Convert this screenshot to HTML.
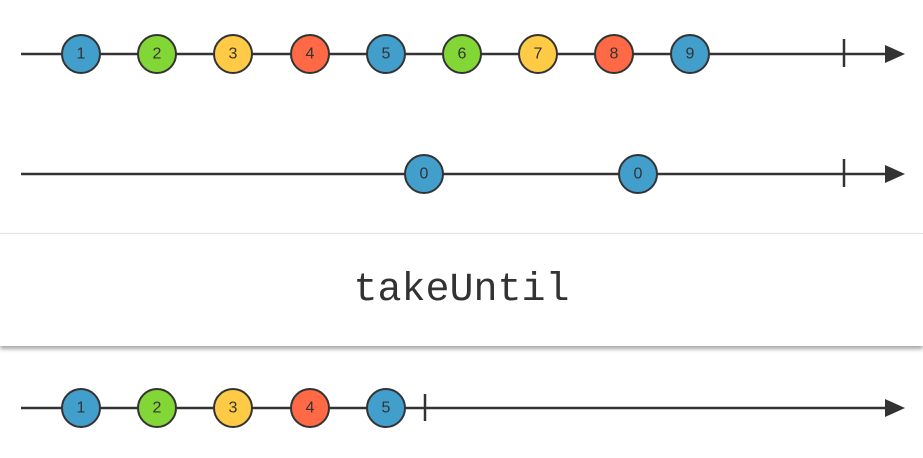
<!DOCTYPE html>
<html><head><style>
html,body{margin:0;padding:0;background:#fff;}
body{width:923px;height:458px;overflow:hidden;position:relative;}
.panel{position:absolute;left:0;top:233px;width:923px;height:112px;background:#fff;border-top:1px solid #e4e4e4;box-shadow:0 3px 4px rgba(0,0,0,0.35);}
.panel div{position:absolute;left:0;right:0;top:34px;text-align:center;font:40px "Liberation Mono",monospace;color:#333;}
svg{position:absolute;left:0;top:0;}
text{font-family:"Liberation Sans",sans-serif;font-size:16px;fill:#333;text-anchor:middle;dominant-baseline:central;}
</style></head><body>
<div class="panel"><div>takeUntil</div></div>
<svg width="923" height="458">
<g stroke="#333" stroke-width="2.5">
<line x1="21" y1="54" x2="888" y2="54"/><line x1="844" y1="39" x2="844" y2="67"/>
<line x1="21" y1="174" x2="888" y2="174"/><line x1="844" y1="159" x2="844" y2="187"/>
<line x1="21" y1="408" x2="888" y2="408"/><line x1="425" y1="394" x2="425" y2="421"/>
</g>
<g fill="#333">
<polygon points="885,45 905,54 885,63"/>
<polygon points="885,165 905,174 885,183"/>
<polygon points="885,399 905,408 885,417"/>
</g>
<g stroke="#333" stroke-width="2">
<circle cx="81" cy="54" r="19" fill="#429ecb"/><circle cx="157" cy="54" r="19" fill="#82d736"/>
<circle cx="233" cy="54" r="19" fill="#ffcb46"/><circle cx="310" cy="54" r="19" fill="#ff6946"/>
<circle cx="386" cy="54" r="19" fill="#429ecb"/><circle cx="462" cy="54" r="19" fill="#82d736"/>
<circle cx="538" cy="54" r="19" fill="#ffcb46"/><circle cx="614" cy="54" r="19" fill="#ff6946"/>
<circle cx="690" cy="54" r="19" fill="#429ecb"/>
<circle cx="424" cy="174" r="19" fill="#429ecb"/><circle cx="638" cy="174" r="19" fill="#429ecb"/>
<circle cx="81" cy="408" r="19" fill="#429ecb"/><circle cx="157" cy="408" r="19" fill="#82d736"/>
<circle cx="233" cy="408" r="19" fill="#ffcb46"/><circle cx="310" cy="408" r="19" fill="#ff6946"/>
<circle cx="386" cy="408" r="19" fill="#429ecb"/>
</g>
<text x="81" y="54">1</text><text x="157" y="54">2</text><text x="233" y="54">3</text><text x="310" y="54">4</text><text x="386" y="54">5</text><text x="462" y="54">6</text><text x="538" y="54">7</text><text x="614" y="54">8</text><text x="690" y="54">9</text>
<text x="424" y="174">0</text><text x="638" y="174">0</text>
<text x="81" y="408">1</text><text x="157" y="408">2</text><text x="233" y="408">3</text><text x="310" y="408">4</text><text x="386" y="408">5</text>
</svg>
</body></html>
